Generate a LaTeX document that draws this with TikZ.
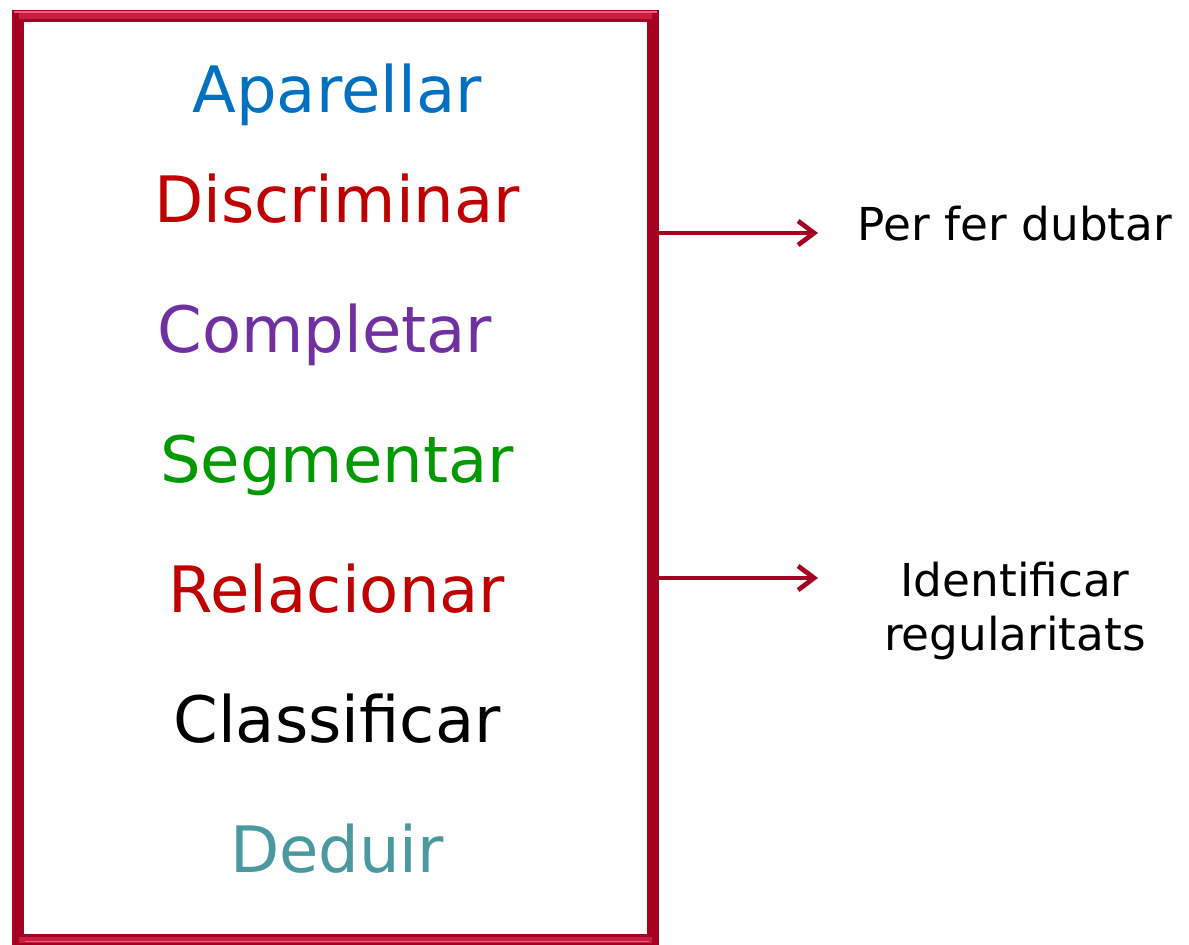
\documentclass[tikz,border=0pt]{standalone}
\usepackage{fontspec}
\setmainfont{DejaVu Sans}
\usepackage{tikz}
\usetikzlibrary{arrows.meta}
\usetikzlibrary{positioning}
\definecolor{frameRed}{HTML}{A50021}
\definecolor{frameLight}{HTML}{C81E40}
\definecolor{frameShine}{HTML}{E8607A}
\definecolor{wordBlue}{HTML}{0070C0}
\definecolor{wordRed}{HTML}{C00000}
\definecolor{wordPurple}{HTML}{7030A0}
\definecolor{wordGreen}{HTML}{009A00}
\definecolor{wordTeal}{HTML}{4A99A0}
\tikzset{
  word/.style={font=\fontsize{48}{58}\selectfont,
    text height=35pt, text depth=10pt, inner sep=0pt},
  goal/.style={font=\fontsize{34}{40}\selectfont,
    align=center, inner sep=0pt},
  frame/.style={draw=frameRed, line width=9pt, inner sep=0pt, outer sep=0pt,
    minimum width=476.25pt, minimum height=693pt},
  link/.style={draw=frameRed, line width=3.5pt,
    -{Straight Barb[length=12pt,width=18pt]}}
}

\begin{document}
\begin{tikzpicture}[x=0.75pt, y=-0.75pt,
      node distance=97.5pt,
      on grid]

    \useasboundingbox (0,0) rectangle (1189,945);

    \node[frame]
      (List) at (335.5,478) {};
    % lighter bevel on the top and bottom bars
    \draw[frameLight, line width=4pt]
      ([xshift=1pt]List.north west) -- ([xshift=-1pt]List.north east)
      ([xshift=1pt]List.south west) -- ([xshift=-1pt]List.south east);
    \draw[frameShine, line width=1.2pt]
      ([xshift=-3pt, yshift=3pt]List.north west) -- ([xshift=3pt, yshift=3pt]List.north east)
      ([xshift=5pt, yshift=-1pt]List.south west) -- ([xshift=-3pt, yshift=-1pt]List.south east);

    \node[word, text=wordRed]
      (Discriminar) at (337,206) {Discriminar};
    \node[word, text=wordBlue]
      (Aparellar) [above=82.5pt of Discriminar] {Aparellar};
    \node[word, text=wordPurple]
      (Completar) [below=of Discriminar, xshift=-9pt] {Completar};
    \node[word, text=wordGreen]
      (Segmentar) [below=of Completar, xshift=9pt] {Segmentar};
    \node[word, text=wordRed]
      (Relacionar) [below=of Segmentar] {Relacionar};
    \node[word]
      (Classificar) [below=of Relacionar] {Classificar};
    \node[word, text=wordTeal]
      (Deduir) [below=of Classificar] {Deduir};

    \node[goal, anchor=base]
      (Doubt) at (1015,240) {Per fer dubtar};
    \node[goal, anchor=base]
      (Rules) at (1015,650) {Identificar\\regularitats};

    \coordinate (DoubtTip) at (818,233);
    \coordinate (RulesTip) at (818,578);

    \path
      (List.east |- DoubtTip) edge[link] (DoubtTip)
      (List.east |- RulesTip) edge[link] (RulesTip);

  \end{tikzpicture}
\end{document}
